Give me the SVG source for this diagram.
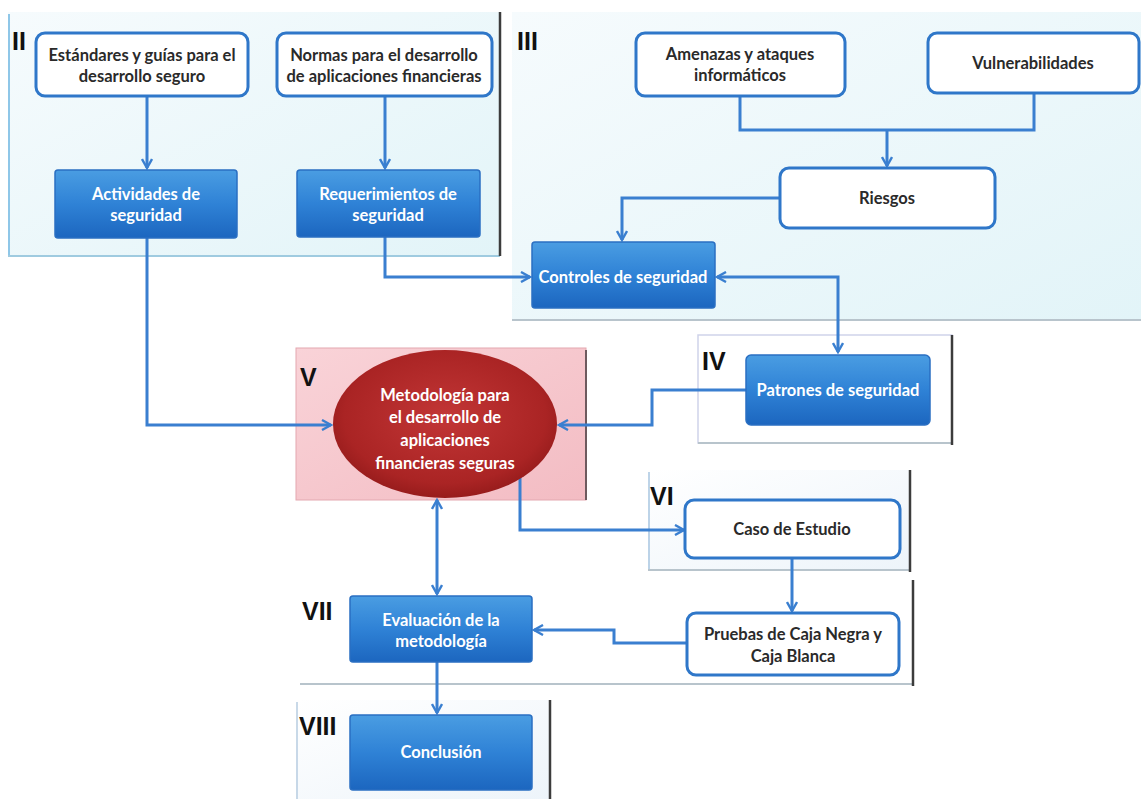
<svg xmlns="http://www.w3.org/2000/svg" width="1141" height="799" viewBox="0 0 1141 799">
  <defs>
    <linearGradient id="blueFill" x1="0" y1="0" x2="0" y2="1">
      <stop offset="0" stop-color="#4a9de2"/>
      <stop offset="0.5" stop-color="#2f82d6"/>
      <stop offset="1" stop-color="#1c66bf"/>
    </linearGradient>
    <radialGradient id="redFill" cx="0.5" cy="0.45" r="0.6">
      <stop offset="0" stop-color="#c23636"/>
      <stop offset="0.75" stop-color="#aa2424"/>
      <stop offset="1" stop-color="#8e1818"/>
    </radialGradient>
    <linearGradient id="cyanPanel" x1="0" y1="0" x2="1" y2="1">
      <stop offset="0" stop-color="#f6fbfd"/>
      <stop offset="1" stop-color="#e2f4f8"/>
    </linearGradient>
    <linearGradient id="pinkPanel" x1="0" y1="0" x2="1" y2="1">
      <stop offset="0" stop-color="#f9d3d8"/>
      <stop offset="1" stop-color="#f3bcc3"/>
    </linearGradient>
    <linearGradient id="palePanel" x1="0" y1="0" x2="1" y2="1">
      <stop offset="0" stop-color="#ffffff"/>
      <stop offset="1" stop-color="#edf4fa"/>
    </linearGradient>
    <marker id="arrow" viewBox="0 0 12 12" refX="10" refY="6" markerWidth="12" markerHeight="12" markerUnits="userSpaceOnUse" orient="auto-start-reverse">
      <path d="M1,1 L10,6 L1,11" fill="none" stroke="#3a7fd0" stroke-width="2.4"/>
    </marker>
  </defs>
  <style>
    .panelEdge { fill: none; stroke: #3c3c3c; stroke-width: 2.5; }
    .panelLine { fill: none; stroke: #b8c4cc; stroke-width: 2; }
    .white { fill: #ffffff; stroke: #2f77c9; stroke-width: 3; }
    .blue { fill: url(#blueFill); stroke: #2a6fc2; stroke-width: 1.5; }
    .wire { fill: none; stroke: #3a7fd0; stroke-width: 3; }
    .lbl { font-family: Lato, "Open Sans", "Liberation Sans", sans-serif; font-weight: 700; font-size: 16.5px; text-anchor: middle; }
    .dark { fill: #2a2a2a; }
    .light { fill: #ffffff; }
    .num { font-family: "Liberation Sans", Arial, sans-serif; font-weight: 700; font-size: 25px; fill: #111111; }
  </style>

  <rect width="1141" height="799" fill="#ffffff"/>

  <!-- section panels -->
  <g id="panel-II">
    <rect x="8" y="12" width="493" height="244" fill="url(#cyanPanel)"/>
    <line x1="9" y1="14" x2="9" y2="256" stroke="#8fc7e8" stroke-width="2"/>
    <line x1="8" y1="256" x2="500" y2="256" stroke="#9fcbe0" stroke-width="2"/>
    <line class="panelEdge" x1="500" y1="12" x2="500" y2="256"/>
    <text class="num" x="12" y="50">II</text>
  </g>
  <g id="panel-III">
    <rect x="512" y="12" width="629" height="308" fill="url(#cyanPanel)"/>
    <line class="panelLine" x1="512" y1="320" x2="1141" y2="320"/>
    <text class="num" x="517" y="50">III</text>
  </g>
  <g id="panel-IV">
    <rect x="698" y="335" width="254" height="108" fill="#ffffff" stroke="#cfd3ea" stroke-width="1.5"/>
    <line class="panelLine" x1="698" y1="443" x2="952" y2="443"/>
    <line class="panelEdge" x1="952" y1="335" x2="952" y2="445"/>
    <text class="num" x="702" y="370">IV</text>
  </g>
  <g id="panel-V">
    <rect x="296" y="348" width="290" height="152" fill="url(#pinkPanel)" stroke="#e3a8b0" stroke-width="1"/>
    <line x1="586" y1="350" x2="586" y2="500" stroke="#6e5a5e" stroke-width="2"/>
    <text class="num" x="300" y="386">V</text>
  </g>
  <g id="panel-VI">
    <rect x="648" y="470" width="262" height="100" fill="url(#palePanel)"/>
    <line x1="649" y1="472" x2="649" y2="570" stroke="#a9c6e0" stroke-width="1.5"/>
    <line class="panelLine" x1="648" y1="570" x2="910" y2="570"/>
    <line class="panelEdge" x1="910" y1="470" x2="910" y2="572"/>
    <text class="num" x="650" y="505">VI</text>
  </g>
  <g id="panel-VII">
    <rect x="300" y="580" width="613" height="104" fill="#ffffff"/>
    <line class="panelLine" x1="300" y1="684" x2="913" y2="684"/>
    <line class="panelEdge" x1="913" y1="580" x2="913" y2="686"/>
    <text class="num" x="302" y="620">VII</text>
  </g>
  <g id="panel-VIII">
    <rect x="296" y="700" width="254" height="99" fill="url(#palePanel)"/>
    <line x1="297" y1="702" x2="297" y2="799" stroke="#b7cde0" stroke-width="1.5"/>
    <line class="panelEdge" x1="550" y1="700" x2="550" y2="799"/>
    <text class="num" x="299" y="735">VIII</text>
  </g>

  <!-- connectors -->
  <g id="connectors">
    <path class="wire" d="M147,97 V168" marker-end="url(#arrow)"/>
    <path class="wire" d="M385,97 V168" marker-end="url(#arrow)"/>
    <path class="wire" d="M740,96 V130 H1034 V93"/>
    <path class="wire" d="M887,130 V166" marker-end="url(#arrow)"/>
    <path class="wire" d="M780,198 H622 V240" marker-end="url(#arrow)"/>
    <path class="wire" d="M385,237 V277 H530" marker-end="url(#arrow)"/>
    <path class="wire" d="M717,277 H838 V352" marker-start="url(#arrow)" marker-end="url(#arrow)"/>
    <path class="wire" d="M147,238 V425 H331" marker-end="url(#arrow)"/>
    <path class="wire" d="M746,390 H652 V425 H559" marker-end="url(#arrow)"/>
    <path class="wire" d="M520,474 V530 H684" marker-end="url(#arrow)"/>
    <path class="wire" d="M437,500 V594" marker-start="url(#arrow)" marker-end="url(#arrow)"/>
    <path class="wire" d="M792,558 V611" marker-end="url(#arrow)"/>
    <path class="wire" d="M687,643 H614 V630 H534" marker-end="url(#arrow)"/>
    <path class="wire" d="M437,662 V713" marker-end="url(#arrow)"/>
  </g>

  <!-- nodes -->
  <g id="n-estandares">
    <rect class="white" x="36" y="33" width="212" height="63" rx="9"/>
    <text class="lbl dark" x="142" y="61">Estándares y guías para el</text>
    <text class="lbl dark" x="142" y="82">desarrollo seguro</text>
  </g>
  <g id="n-normas">
    <rect class="white" x="277" y="33" width="215" height="63" rx="9"/>
    <text class="lbl dark" x="384" y="61">Normas para el desarrollo</text>
    <text class="lbl dark" x="384" y="82">de aplicaciones financieras</text>
  </g>
  <g id="n-actividades">
    <rect class="blue" x="55" y="170" width="182" height="68" rx="3"/>
    <text class="lbl light" x="146" y="200">Actividades de</text>
    <text class="lbl light" x="146" y="221">seguridad</text>
  </g>
  <g id="n-requerimientos">
    <rect class="blue" x="297" y="170" width="183" height="67" rx="3"/>
    <text class="lbl light" x="388" y="200">Requerimientos de</text>
    <text class="lbl light" x="388" y="221">seguridad</text>
  </g>
  <g id="n-amenazas">
    <rect class="white" x="636" y="33" width="209" height="63" rx="9"/>
    <text class="lbl dark" x="740" y="60">Amenazas y ataques</text>
    <text class="lbl dark" x="740" y="81">informáticos</text>
  </g>
  <g id="n-vulnerabilidades">
    <rect class="white" x="928" y="33" width="211" height="60" rx="9"/>
    <text class="lbl dark" x="1033" y="69">Vulnerabilidades</text>
  </g>
  <g id="n-riesgos">
    <rect class="white" x="780" y="168" width="215" height="60" rx="9"/>
    <text class="lbl dark" x="887" y="204">Riesgos</text>
  </g>
  <g id="n-controles">
    <rect class="blue" x="532" y="242" width="183" height="66" rx="3"/>
    <text class="lbl light" x="623" y="283">Controles de seguridad</text>
  </g>
  <g id="n-patrones">
    <rect class="blue" x="746" y="355" width="184" height="70" rx="5"/>
    <text class="lbl light" x="838" y="396">Patrones de seguridad</text>
  </g>
  <g id="n-metodologia">
    <ellipse cx="445" cy="424" rx="112" ry="74" fill="url(#redFill)"/>
    <text class="lbl light" x="445" y="401">Metodología para</text>
    <text class="lbl light" x="445" y="423">el desarrollo de</text>
    <text class="lbl light" x="445" y="446">aplicaciones</text>
    <text class="lbl light" x="445" y="469">financieras seguras</text>
  </g>
  <g id="n-caso">
    <rect class="white" x="685" y="500" width="215" height="58" rx="9"/>
    <text class="lbl dark" x="792" y="535">Caso de Estudio</text>
  </g>
  <g id="n-pruebas">
    <rect class="white" x="687" y="613" width="212" height="62" rx="9"/>
    <text class="lbl dark" x="793" y="640">Pruebas de Caja Negra y</text>
    <text class="lbl dark" x="793" y="662">Caja Blanca</text>
  </g>
  <g id="n-evaluacion">
    <rect class="blue" x="350" y="596" width="182" height="66" rx="3"/>
    <text class="lbl light" x="441" y="626">Evaluación de la</text>
    <text class="lbl light" x="441" y="647">metodología</text>
  </g>
  <g id="n-conclusion">
    <rect class="blue" x="350" y="715" width="182" height="75" rx="3"/>
    <text class="lbl light" x="441" y="758">Conclusión</text>
  </g>
</svg>
